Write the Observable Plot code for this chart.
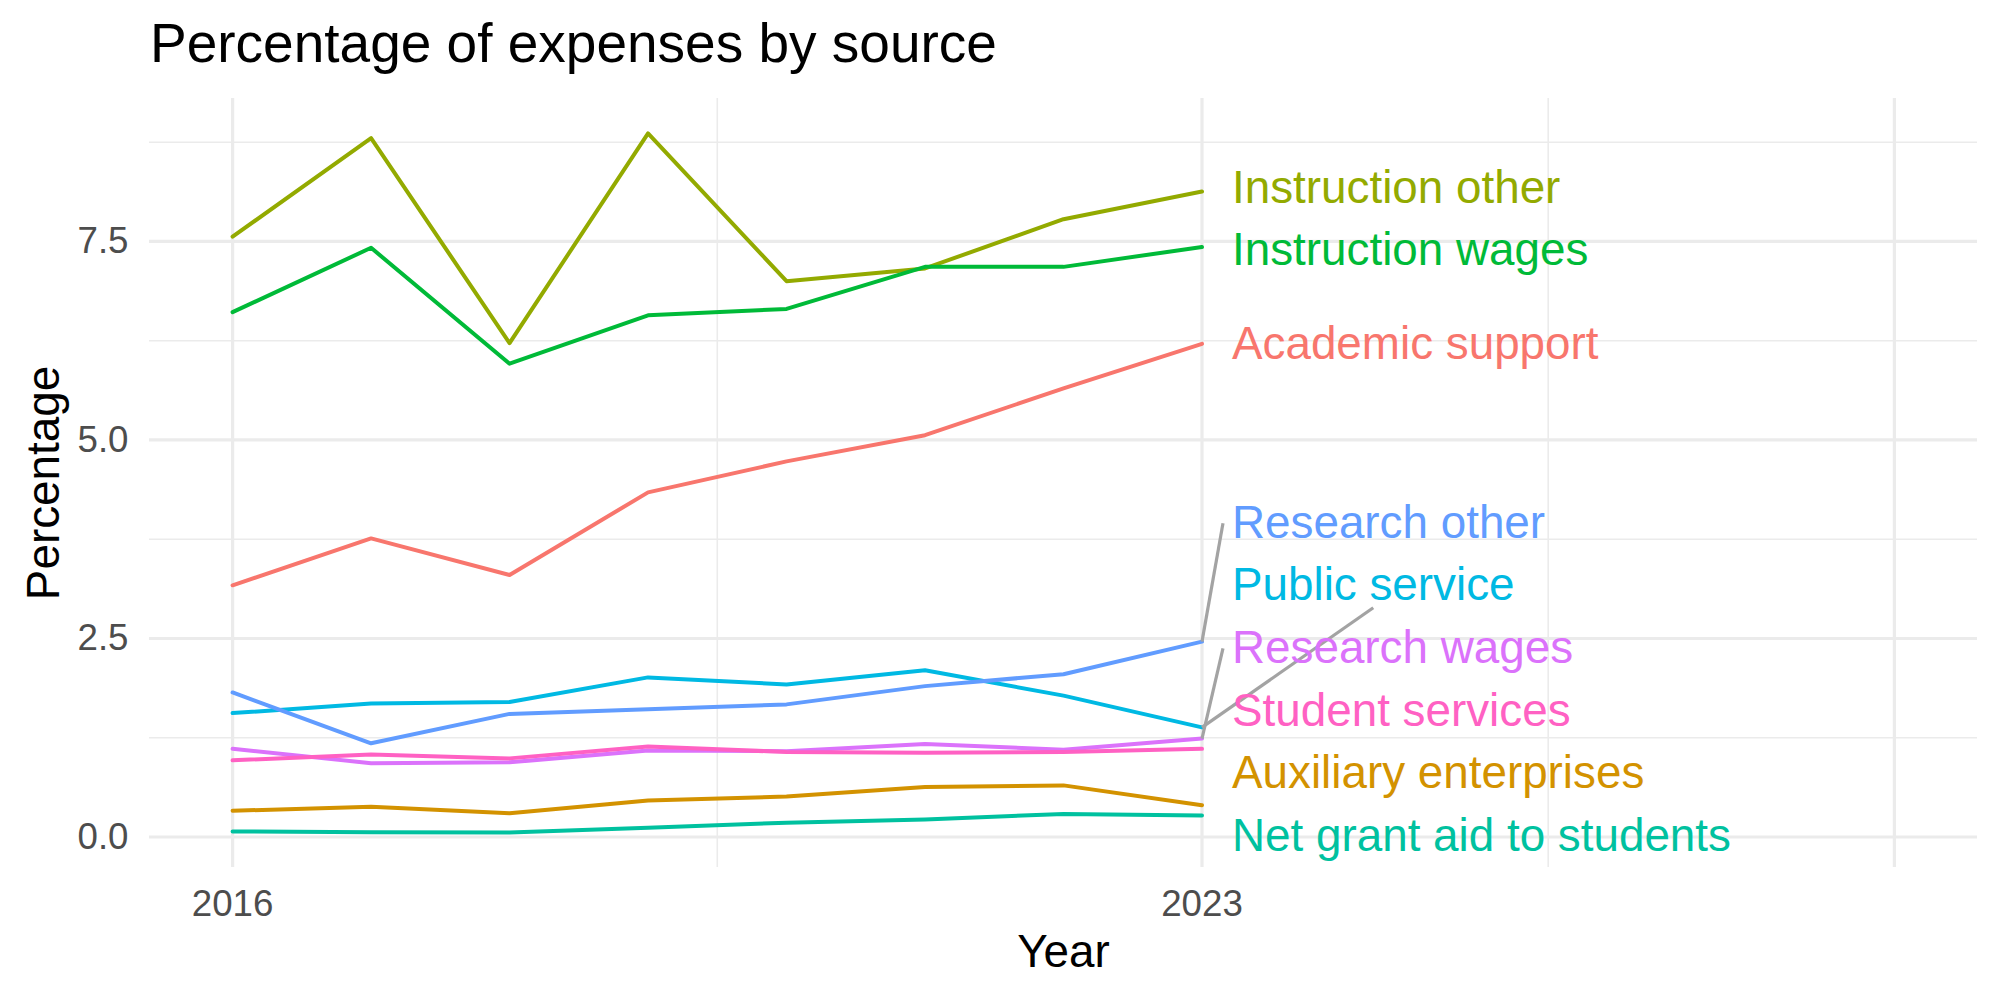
<!DOCTYPE html>
<html>
<head>
<meta charset="utf-8">
<script src="https://cdn.jsdelivr.net/npm/d3@7"></script>
<script src="https://cdn.jsdelivr.net/npm/@observablehq/plot@0.6"></script>
<style>
  body { margin: 0; background: #fff; font-family: "Liberation Sans", Arial, Helvetica, sans-serif; }
  #title { box-sizing: border-box; height: 76px; padding-top: 11.2px; line-height: 64.8px; font-size: 55px; padding-left: 150px; color: #000; white-space: nowrap; }
</style>
</head>
<body>
<div id="title">Percentage of expenses by source</div>
<div id="chart"></div>
<script>
// Expense shares (%) by source, 2016–2023
const years = [2016, 2017, 2018, 2019, 2020, 2021, 2022, 2023];

const academicSupport      = [3.17, 3.76, 3.30, 4.34, 4.73, 5.06, 5.65, 6.21];
const auxiliaryEnterprises = [0.33, 0.38, 0.30, 0.46, 0.51, 0.63, 0.65, 0.40];
const instructionOther     = [7.56, 8.80, 6.22, 8.86, 7.00, 7.16, 7.78, 8.13];
const instructionWages     = [6.61, 7.42, 5.96, 6.57, 6.65, 7.18, 7.18, 7.43];
const netGrantAid          = [0.07, 0.06, 0.056, 0.115, 0.18, 0.22, 0.29, 0.27];
const publicService        = [1.56, 1.68, 1.70, 2.01, 1.92, 2.10, 1.78, 1.38];
const researchOther        = [1.82, 1.18, 1.55, 1.61, 1.67, 1.90, 2.05, 2.46];
const researchWages        = [1.11, 0.93, 0.94, 1.09, 1.08, 1.17, 1.10, 1.24];
const studentServices      = [0.965, 1.04, 0.99, 1.14, 1.07, 1.06, 1.07, 1.11];

const sources = [
  "Academic support", "Auxiliary enterprises", "Instruction other", "Instruction wages",
  "Net grant aid to students", "Public service", "Research other", "Research wages", "Student services"
];
const seriesValues = [
  academicSupport, auxiliaryEnterprises, instructionOther, instructionWages,
  netGrantAid, publicService, researchOther, researchWages, studentServices
];
const palette = ["#F8766D", "#D39200", "#93AA00", "#00BA38", "#00C19F", "#00B9E3", "#619CFF", "#DB72FB", "#FF61C3"];

// Axis breaks and limits
const xLimits = [2016, 2028];
const xLabelBreaks = [2016, 2023];
const xMajorGrid = [2016, 2023, 2028];
const xMinorGrid = [2019.5, 2025.5];
const yMajorGrid = [0, 2.5, 5, 7.5];
const yMinorGrid = [1.25, 3.75, 6.25, 8.75];

// Tidy rows for the line mark
const rows = sources.flatMap((s, i) => years.map((yr, j) => ({source: s, year: yr, value: seriesValues[i][j]})));

// Layout
const W = 2000, H = 924;
const M = {top: 22, right: 23, bottom: 133, left: 149};
const expand = ([a, b]) => [a - (b - a) * 0.05, b + (b - a) * 0.05];
const xDomain = expand(xLimits);
const yDomain = expand(d3.extent(rows, d => d.value));
const panelW = W - M.left - M.right, panelH = H - M.top - M.bottom;
const px = x => M.left + (x - xDomain[0]) / (xDomain[1] - xDomain[0]) * panelW;
const py = y => M.top + (yDomain[1] - y) / (yDomain[1] - yDomain[0]) * panelH;
const invX = p => xDomain[0] + (p - M.left) / panelW * (xDomain[1] - xDomain[0]);
const invY = p => yDomain[1] - (p - M.top) / panelH * (yDomain[1] - yDomain[0]);

// End labels: stack overlapping labels vertically with the least movement,
// keeping them inside the panel
const labelFont = 45.8;
const boxPx = 62.6;
const pxPerUnit = panelH / (yDomain[1] - yDomain[0]);
const gap = boxPx / pxPerUnit;
const floor = yDomain[0] + (boxPx / 2) / pxPerUnit;
const lastYear = years[years.length - 1];
const endValues = seriesValues.map(v => v[v.length - 1]);

function stackLabels(values) {
  const order = d3.range(values.length).sort((a, b) => values[a] - values[b]);
  const blocks = [];
  order.forEach((idx, i) => {
    blocks.push({sum: values[idx] - i * gap, n: 1});
    while (blocks.length > 1) {
      const b = blocks[blocks.length - 1], a = blocks[blocks.length - 2];
      if (a.sum / a.n <= b.sum / b.n) break;
      a.sum += b.sum; a.n += b.n; blocks.pop();
    }
  });
  const fitted = blocks.flatMap(b => d3.range(b.n).map(() => b.sum / b.n));
  const pos = new Array(values.length);
  let prev = -Infinity;
  order.forEach((idx, i) => {
    const p = Math.max(fitted[i] + i * gap, floor, prev + gap);
    pos[idx] = p; prev = p;
  });
  return pos;
}
const labelPos = stackLabels(endValues);
const labels = sources.map((s, i) => ({source: s, year: lastYear, value: labelPos[i]}));

// Leader segments from each line end to the nearest side of a displaced label
const ctx = document.createElement("canvas").getContext("2d");
ctx.font = `${labelFont}px "Liberation Sans", Arial, sans-serif`;
const segments = [];
sources.forEach((s, i) => {
  const x0 = px(lastYear), y0 = py(endValues[i]);
  const left = x0 + 21, right = x0 + 30 + ctx.measureText(s).width + 9;
  const cy = py(labelPos[i]), top = cy - 22, bottom = cy + 22, cx = (left + right) / 2;
  const nx = Math.max(left, Math.min(x0, right)), ny = Math.max(top, Math.min(y0, bottom));
  if (Math.hypot(nx - x0, ny - y0) < 40) return;
  const candidates = [[left, cy], [right, cy], [cx, top], [cx, bottom]];
  const best = d3.least(candidates, ([a, b]) => Math.hypot((a - x0) / panelW, (b - y0) / panelH));
  segments.push({x1: lastYear, y1: endValues[i], x2: invX(best[0]), y2: invY(best[1])});
});

const chart = Plot.plot({
  width: W,
  height: H,
  marginTop: M.top,
  marginRight: M.right,
  marginBottom: M.bottom,
  marginLeft: M.left,
  style: {fontFamily: '"Liberation Sans", Arial, Helvetica, sans-serif', color: "#4D4D4D", background: "white"},
  x: {domain: xDomain, label: null},
  y: {domain: yDomain, label: null},
  color: {domain: sources, range: palette},
  marks: [
    Plot.ruleY(yMinorGrid, {stroke: "#EBEBEB", strokeWidth: 1.6}),
    Plot.ruleX(xMinorGrid, {stroke: "#EBEBEB", strokeWidth: 1.6}),
    Plot.ruleY(yMajorGrid, {stroke: "#EBEBEB", strokeWidth: 3.2}),
    Plot.ruleX(xMajorGrid, {stroke: "#EBEBEB", strokeWidth: 3.2}),
    Plot.axisX({ticks: xLabelBreaks, tickFormat: "d", tickSize: 0, tickPadding: 22, fontSize: 36.7, label: null}),
    Plot.axisY({ticks: yMajorGrid, tickFormat: ".1f", tickSize: 0, tickPadding: 21, fontSize: 36.7, label: null}),
    Plot.line(rows, {x: "year", y: "value", z: "source", stroke: "source", strokeWidth: 4, strokeLinejoin: "round"}),
    Plot.link(segments, {x1: "x1", y1: "y1", x2: "x2", y2: "y2", stroke: "#A3A3A3", strokeWidth: 3.2}),
    Plot.text(labels, {x: "year", y: "value", text: "source", fill: "source", dx: 30, textAnchor: "start", lineAnchor: "middle", fontSize: labelFont}),
    Plot.text(["Year"], {text: d => d, frameAnchor: "bottom", dy: 85, textAnchor: "middle", lineAnchor: "middle", fontSize: 45.8, fill: "black"}),
    Plot.text(["Percentage"], {text: d => d, frameAnchor: "left", rotate: -90, dx: -105, textAnchor: "middle", lineAnchor: "middle", fontSize: 45.8, fill: "black"})
  ]
});
document.getElementById("chart").appendChild(chart);
</script>
</body>
</html>
